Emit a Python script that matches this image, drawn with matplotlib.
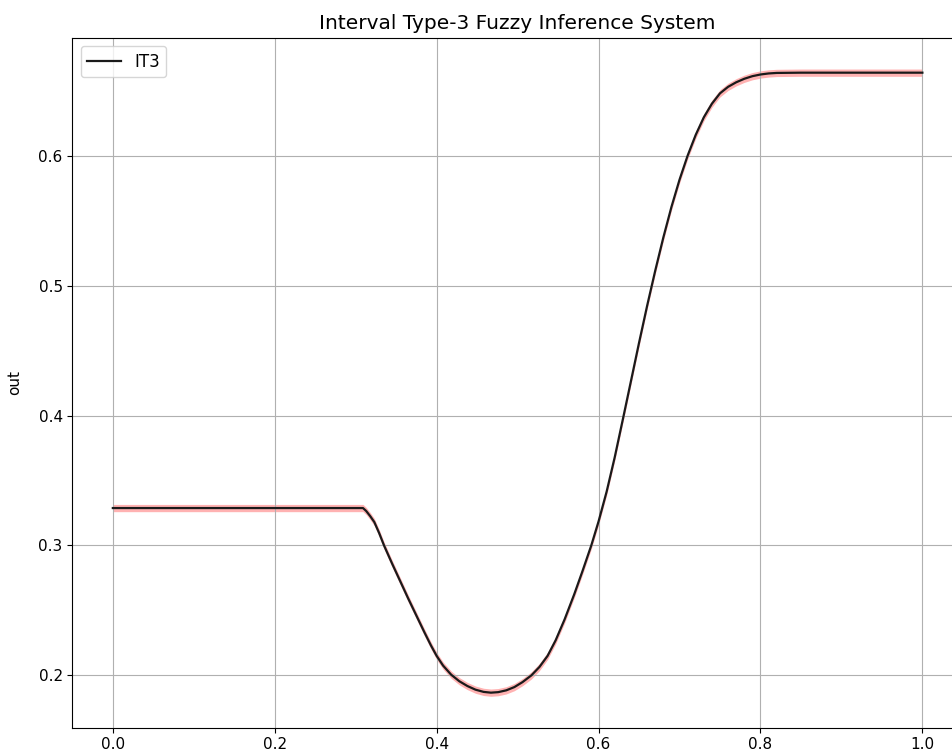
import matplotlib
matplotlib.use("Agg")
import matplotlib.pyplot as plt
import numpy as np

title = "Interval Type-3 Fuzzy Inference System"
ylabel = "out"
series_label = "IT3"

x_vals = [0.0, 0.1, 0.2, 0.3, 0.309, 0.313, 0.318, 0.323, 0.329, 0.335, 0.345,
          0.355, 0.365, 0.375, 0.385, 0.393, 0.400, 0.408, 0.418, 0.428, 0.438,
          0.448, 0.458, 0.467, 0.476, 0.486, 0.496, 0.506, 0.517, 0.527, 0.537,
          0.547, 0.558, 0.570, 0.580, 0.591, 0.600, 0.610, 0.620, 0.631, 0.640,
          0.650, 0.660, 0.670, 0.680, 0.690, 0.700, 0.710, 0.720, 0.730, 0.740,
          0.750, 0.760, 0.770, 0.780, 0.790, 0.800, 0.810, 0.820, 0.850, 0.900,
          1.000]
y_vals = [0.3288, 0.3288, 0.3288, 0.3288, 0.3288, 0.3265, 0.3225, 0.3180, 0.3095,
          0.3000, 0.2860, 0.2725, 0.2590, 0.2460, 0.2330, 0.2230, 0.2150, 0.2075,
          0.2005, 0.1955, 0.1918, 0.1890, 0.1873, 0.1867, 0.1871, 0.1885, 0.1910,
          0.1948, 0.2000, 0.2065, 0.2150, 0.2270, 0.2430, 0.2625, 0.2800, 0.3000,
          0.3185, 0.3415, 0.3680, 0.4000, 0.4265, 0.4560, 0.4845, 0.5115, 0.5370,
          0.5605, 0.5815, 0.6000, 0.6160, 0.6295, 0.6400, 0.6480, 0.6530, 0.6565,
          0.6592, 0.6612, 0.6625, 0.6633, 0.6637, 0.6639, 0.6639, 0.6639]
band_halfwidth = 0.0028

x = np.array(x_vals)
y = np.array(y_vals)

fig = plt.figure(figsize=(9.52, 7.55), dpi=100)
ax = fig.add_axes([0.0760, 0.0362, 0.9354, 0.9139])
ax.fill_between(x, y - band_halfwidth, y + band_halfwidth, color="red", alpha=0.3, linewidth=0)
ax.plot(x, y, color="#1a1a1a", linewidth=1.6, label=series_label)
ax.set_title(title, fontsize=14.5)
ax.set_ylabel(ylabel, fontsize=11, labelpad=12)
ax.tick_params(labelsize=11)
ax.grid(True)
ax.legend(loc="upper left", fontsize=12)
fig.savefig("out.png", dpi=100)
